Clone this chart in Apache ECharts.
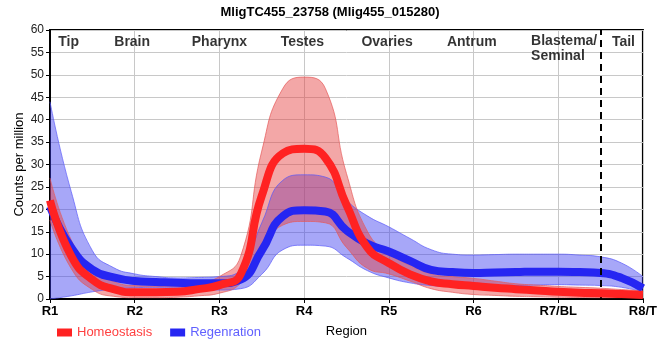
<!DOCTYPE html>
<html><head><meta charset="utf-8">
<script src="https://cdn.jsdelivr.net/npm/echarts@6/dist/echarts.min.js"></script>
<style>html,body{margin:0;padding:0;background:#fff}#c{width:660px;height:360px}</style>
</head><body><div id="c"></div>
<script>
// Positions along the body (0 = R1 ... 7 = R8/T), quarter steps
const xs = ['0','0.25','0.5','0.75','1','1.25','1.5','1.75','2','2.25','2.5','2.75','3','3.25','3.5','3.75','4','4.25','4.5','4.75','5','5.25','5.5','5.75','6','6.25','6.5','6.75','7'];
const tickLabels = ['R1','R2','R3','R4','R5','R6','R7/BL','R8/T'];
// Homeostasis
const homMean = [22,9.6,4.3,2.2,1.5,1.5,1.6,2.2,3.1,5.5,23,32.5,33.5,31.5,21,11.4,8,5.5,3.9,3.3,2.9,2.5,2.2,1.9,1.6,1.4,1.3,1.1,0.9];
const homUp   = [27,13.2,6.6,3.9,3.0,2.9,3.0,3.7,5.0,9.5,33,47,49.5,47,28,15,10.2,7.5,5.6,5.0,4.6,4.0,3.4,3.1,2.8,2.6,2.4,2.1,1.8];
const homLo   = [17.6,6.8,2.1,0.6,0.3,0.3,0.4,0.7,1.3,3.5,10.5,16.5,17.3,17,11.5,6.8,5.6,4.0,2.3,1.5,1.0,0.8,0.6,0.5,0.4,0.35,0.3,0.3,0.3];
// Regeneration
const regMean = [20.6,11.5,6.6,4.8,4.0,3.8,3.6,3.5,3.5,4.3,10.8,18.5,19.8,19.5,15.3,12.3,10.6,8.5,6.5,6.0,5.8,5.9,6.0,6.1,6.1,6.0,5.8,4.7,2.4];
const regUp   = [44,24,10.8,7,5.6,5.0,4.7,4.8,5.0,6.5,17,26.5,27.7,27.2,22,18.5,16.1,13.5,11,10,9.8,9.9,10,10,10,9.8,9.4,8,5];
const regLo   = [0,0.7,1.6,2.2,2.5,2.6,2.6,2.3,2.0,2.3,5.5,11,12,11.8,9.2,6.3,4.7,3.6,3.0,2.8,2.7,2.8,3.0,3.1,3.2,3.1,3.0,2.6,1.6];
// Region annotations
const regionNames = ['Tip','Brain','Pharynx','Testes','Ovaries','Antrum','Blastema/\nSeminal','Tail'];
const regionX     = [0.22,0.97,2.0,2.98,3.98,4.98,5.68,6.77];
const tailBoundary = 6.5;

const FONT = '"Liberation Sans",Arial,sans-serif';
const diff = (u,l) => u.map((v,i)=> +(v - l[i]).toFixed(3));

function band(name, lo, up, fill, edge){
  return [
    {type:'line', name:name+'_lo', stack:name, data:lo, smooth:true,
     showSymbol:false, silent:true, lineStyle:{width:1, color:edge}, z:2},
    {type:'line', name:name+'_up', stack:name, data:diff(up,lo), smooth:true,
     showSymbol:false, silent:true, lineStyle:{width:1, color:edge}, areaStyle:{color:fill, opacity:1}, z:2}
  ];
}

const chart = echarts.init(document.getElementById('c'), null, {renderer:'canvas'});
chart.setOption({
  animation:false,
  title:{text:'MligTC455_23758 (Mlig455_015280)', left:'center', top:1,
    textStyle:{fontFamily:FONT, fontSize:13, fontWeight:'bold', color:'#000'}},
  grid:{left:50, right:9, top:30, bottom:61, show:true, borderColor:'#000', borderWidth:2, backgroundColor:'transparent'},
  legend:{left:52, top:321, itemWidth:15, itemHeight:8, itemGap:18, icon:'rect',
    data:[{name:'Homeostasis', textStyle:{color:'#ff4040'}},{name:'Regenration', textStyle:{color:'#6060ff'}}],
    textStyle:{fontFamily:FONT, fontSize:13}},
  xAxis:[{type:'category', data:xs, boundaryGap:false, name:'Region', nameLocation:'middle', nameGap:26,
    nameMoveOverlap:false,
    nameTextStyle:{fontFamily:FONT, fontSize:13, color:'#000'},
    axisLine:{lineStyle:{color:'#000', width:2}}, axisTick:{show:true, length:4, interval:3, lineStyle:{color:'#000'}},
    axisLabel:{interval:3, formatter:v=>tickLabels[Number(v)]||'', fontFamily:FONT, fontSize:13, fontWeight:'bold', color:'#000', margin:6},
    splitLine:{show:true, interval:3, lineStyle:{color:'#c8c8c8', width:1}}},
    {type:'value', min:0, max:7, show:false}],
  yAxis:{type:'value', min:0, max:60, interval:5, name:'Counts per million', nameLocation:'middle', nameGap:24,
    nameMoveOverlap:false,
    nameTextStyle:{fontFamily:FONT, fontSize:13, color:'#000'},
    axisLine:{show:true, lineStyle:{color:'#000', width:2}}, axisTick:{show:true, length:4, lineStyle:{color:'#000'}},
    axisLabel:{fontFamily:FONT, fontSize:12, color:'#222', margin:6},
    splitLine:{show:true, lineStyle:{color:'#c8c8c8', width:1}}},
  series:[
    ...band('regBand', regLo, regUp, 'rgba(60,60,240,0.45)', 'rgba(90,90,250,0.7)'),
    {type:'line', name:'Regenration', data:regMean, smooth:true, showSymbol:false,
     color:'#2626f2', lineStyle:{width:8, color:'#2626f2'}, z:3},
    ...band('homBand', homLo, homUp, 'rgba(228,60,60,0.45)', 'rgba(230,90,90,0.7)'),
    {type:'line', name:'Homeostasis', data:homMean, smooth:true, showSymbol:false,
     color:'#ff2222', lineStyle:{width:8, color:'#ff2222'}, z:5},
    {type:'scatter', name:'regions', xAxisIndex:1, symbolSize:0, silent:true, z:10,
     data:regionNames.map((n,i)=>({name:n, value:[regionX[i], n.indexOf('\n')>=0 ? 55.8 : 57.3],
       label:{align: n.indexOf('\n')>=0 ? 'left' : 'center'}})),
     label:{show:true, position:'inside', formatter:'{b}', fontFamily:FONT,
       fontSize:14, fontWeight:'bold', color:'#000', lineHeight:15},
     markLine:{silent:true, symbol:'none', label:{show:false},
       lineStyle:{color:'#000', width:2, type:[7,5]}, data:[{xAxis:tailBoundary}]}}
  ]
});
</script></body></html>
